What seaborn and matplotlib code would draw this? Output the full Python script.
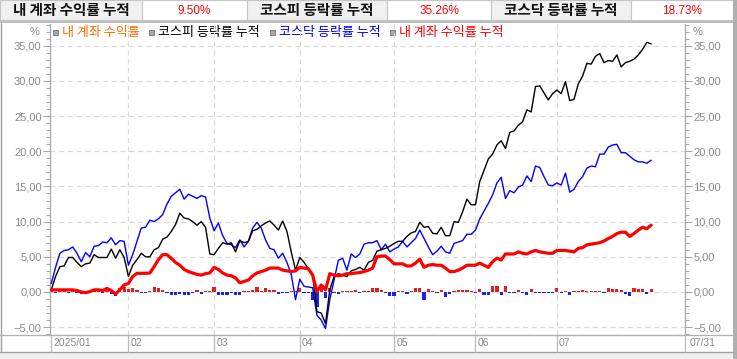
import numpy as np
import pandas as pd
import matplotlib
matplotlib.use("Agg")
import matplotlib.pyplot as plt
import matplotlib.transforms as mtransforms
from matplotlib.ticker import MultipleLocator, FuncFormatter
from matplotlib.patches import Rectangle
import seaborn as sns

# ---------------- data ----------------
month_labels = ["2025/01", "02", "03", "04", "05", "06", "07"]
month_days = [18, 20, 20, 22, 19, 19, 23]
end_label = "07/31"

header_labels = ["내 계좌 수익률 누적", "코스피 등락률 누적", "코스닥 등락률 누적"]
header_values = ["9.50%", "35.26%", "18.73%"]
legend_labels = ["내 계좌 수익률", "코스피 등락률 누적", "코스닥 등락률 누적", "내 계좌 수익률 누적"]

kospi = [0.3, 2.2, 3.6, 3.7, 4.9, 4.9, 4.2, 3.6, 4.0, 4.1,
         5.3, 4.9, 4.9, 4.9, 6.1, 4.8, 6.0, 4.9, 2.2, 3.8,
         4.6, 5.5, 5.0, 5.0, 6.0, 6.3, 7.5, 7.8, 8.6, 9.6,
         11.2, 10.5, 10.4, 10.0, 9.5, 10.0, 9.2, 5.4, 5.3, 6.2,
         7.0, 6.8, 7.0, 5.7, 7.3, 7.0, 7.2, 8.7, 8.9, 9.4,
         9.8, 10.1, 9.5, 8.8, 10.1, 8.6, 5.7, 3.1, 4.9, 4.2,
         3.3, 2.4, -2.8, -3.0, -4.5, 0.3, 2.2, 2.6, 2.4, 2.2,
         3.0, 3.2, 3.5, 3.1, 4.2, 4.5, 5.8, 6.0, 6.2, 6.5,
         6.9, 7.2, 7.2, 7.9, 8.4, 8.6, 9.9, 9.2, 9.3, 8.35,
         8.25, 9.2, 8.0, 8.0, 10.0, 9.9, 11.4, 13.2, 12.4, 12.4,
         15.7, 17.3, 18.9, 19.6, 20.9, 21.5, 20.4, 22.7, 22.9, 23.7,
         24.2, 25.9, 25.6, 29.2, 29.3, 28.3, 27.3, 28.2, 28.7, 28.2,
         29.9, 27.2, 27.4, 29.6, 30.7, 32.5, 32.4, 33.5, 33.9, 32.6,
         32.9, 32.8, 33.7, 32.0, 32.6, 32.8, 33.1, 33.7, 34.5, 35.5,
         35.26]

kosdaq = [1.2, 3.5, 5.5, 5.9, 6.0, 6.4, 5.5, 4.3, 5.6, 5.0,
          6.5, 6.6, 7.1, 7.0, 7.7, 6.7, 7.3, 7.2, 3.8, 5.3,
          7.2, 9.1, 9.2, 10.2, 10.0, 10.4, 11.0, 12.5, 13.6, 14.1,
          14.6, 13.2, 13.9, 13.6, 13.3, 13.7, 13.5, 10.5, 8.7, 9.8,
          8.0, 6.9, 6.7, 6.3, 7.4, 6.4, 7.2, 9.1, 9.9, 9.1,
          7.4, 6.2, 6.0, 4.8, 5.5, 4.2, 2.5, -1.1, 1.8, 0.8,
          0.7, 0.6, -3.3, -4.0, -5.2, -1.1, 1.7, 4.5, 4.8, 3.1,
          5.4, 4.9, 5.4, 6.8, 7.0, 7.0, 7.3, 6.0, 6.8, 5.7,
          6.1, 6.4, 7.2, 6.4, 7.0, 7.6, 8.8, 7.6, 6.4, 5.3,
          5.8, 6.5, 5.7, 5.5, 6.9, 7.1, 7.3, 8.2, 8.2, 8.8,
          10.4, 11.5, 12.6, 13.8, 15.5, 16.3, 13.3, 14.4, 14.1, 14.9,
          15.2, 16.5, 15.7, 17.9, 17.7, 16.4, 15.2, 15.1, 15.5, 15.2,
          16.9, 14.2, 14.6, 15.7, 16.4, 17.6, 17.9, 17.8, 19.6, 19.6,
          20.6, 20.9, 21.0, 19.8, 19.8, 19.3, 18.8, 18.5, 18.5, 18.3,
          18.73]

account = [0.3, 0.3, 0.3, 0.3, 0.3, 0.3, 0.2, 0.0, -0.1, 0.05,
           0.3, 0.3, 0.2, 0.5, 0.2, -0.3, 0.3, 1.0, 1.2, 2.2,
           2.65, 2.65, 2.65, 2.7, 3.6, 4.6, 5.3, 5.3, 4.8, 4.2,
           3.8, 3.2, 2.9, 2.7, 2.5, 2.4, 2.6, 2.7, 3.5, 3.2,
           2.7, 2.4, 2.3, 2.0, 1.3, 1.5, 1.7, 2.3, 2.7, 2.9,
           3.1, 3.4, 3.4, 3.4, 3.1, 3.0, 2.9, 3.0, 3.5, 3.4,
           3.3, 2.4, 0.05, 1.0, 0.3, 2.6, 2.4, 2.3, 2.4, 2.6,
           2.6, 2.7, 2.75, 2.9, 3.1, 3.4, 5.0, 5.1, 5.1, 4.6,
           4.0, 4.0, 4.0, 3.7, 3.7, 4.1, 4.65, 3.5, 3.8, 3.9,
           3.8, 3.8, 3.4, 2.9, 2.9, 3.1, 3.4, 3.8, 3.8, 3.8,
           4.1, 3.8, 3.5, 4.3, 4.8, 4.55, 5.4, 5.4, 5.4, 5.7,
           5.5, 5.4, 5.7, 5.9, 5.7, 5.6, 5.5, 5.5, 5.9, 5.9,
           5.9, 5.8, 5.7, 6.2, 6.3, 6.7, 6.8, 6.9, 7.0, 7.25,
           7.6, 7.9, 8.3, 8.5, 8.5, 7.9, 8.3, 8.8, 9.2, 9.0,
           9.5]

daily = [0.3, -0.2, 0.1, 0.1, -0.1, 0.1, -0.1, -0.3, -0.3, 0.1,
         0.2, 0.1, -0.2, 0.3, -0.3, -0.6, 0.6, 0.7, 0.4, 0.6,
         0.3, -0.1, -0.1, 0.2, 0.7, 0.6, 0.3, -0.2, -0.5, -0.5,
         -0.3, -0.5, -0.4, -0.1, 0.3, -0.3, 0.2, 0.2, 0.75, -0.4,
         -0.4, -0.4, -0.1, -0.5, -0.5, 0.2, 0.2, 0.3, 0.75, 0.2,
         0.5, 0.3, 0.3, -0.3, -0.2, -0.1, 0.2, 0.1, 0.5, -0.2,
         -0.2, -1.2, -2.1, 0.6, -0.9, 0.5, -0.2, -0.3, 0.2, 0.2,
         0.1, 0.3, -0.2, 0.2, 0.2, 0.6, 0.6, 0.3, -0.2, -0.6,
         -0.6, 0.1, 0.1, -0.3, 0.1, 0.6, 0.5, -1.2, 0.4, 0.1,
         -0.2, 0.3, -0.7, -0.3, 0.1, 0.3, 0.3, 0.3, 0.2, -0.2,
         0.4, -0.4, -0.4, 0.8, 0.8, -0.4, 0.8, -0.1, -0.1, 0.3,
         -0.1, -0.5, 0.4, -0.1, -0.2, -0.1, -0.2, -0.2, 0.5, -0.2,
         0.2, -0.5, 0.2, 0.2, 0.3, 0.2, 0.2, 0.1, 0.2, -0.1,
         0.5, 0.4, 0.4, 0.3, -0.3, -0.6, 0.6, 0.4, 0.4, -0.3,
         0.4]

# ---------------- style ----------------
sns.set_style("white")
plt.rcParams['font.family'] = ['Noto Sans CJK KR', 'DejaVu Sans']
NUM_FONT = ['Liberation Sans', 'DejaVu Sans']
GREY_TXT = '#8a8a8a'
AX_GREY = '#a8a8a8'
GRID = '#d9d9d9'

W, H = 737, 359
fig = plt.figure(figsize=(W / 100, H / 100), dpi=100)
fig.patch.set_facecolor('white')

# background / frame overlay in pixel coordinates
bg = fig.add_axes([0, 0, 1, 1], zorder=0)
bg.set_xlim(0, W)
bg.set_ylim(H, 0)
bg.axis('off')

# header cells
edges = [0, 142, 247, 387, 491, 631, 733]
for k in range(6):
    x0, x1 = edges[k], edges[k + 1]
    fc = '#f0f0f0' if k % 2 == 0 else 'white'
    bg.add_patch(Rectangle((x0, 0), x1 - x0, 20, facecolor=fc, edgecolor='#c4c4c4', lw=0.8))
for k in range(3):
    cx = (edges[2 * k] + edges[2 * k + 1]) / 2
    bg.text(cx, 10.5, header_labels[k], ha='center', va='center', fontsize=10.5,
            fontweight='bold', color='#111111')
    cx = (edges[2 * k + 1] + edges[2 * k + 2]) / 2
    bg.text(cx, 10.5, header_values[k], ha='center', va='center', fontsize=8.5,
            color='#ff0000', family=NUM_FONT)
bg.add_patch(Rectangle((0, 20.5), W, 2.5, facecolor='#bdbdbd', edgecolor='none'))
# panel borders
bg.plot([1, 1], [23, 352], color='#a0a0a0', lw=1.0)
bg.add_patch(Rectangle((733, 0), 4, H, facecolor='#b0b0b0', edgecolor='none'))
bg.plot([0, 733], [352, 352], color='#a0a0a0', lw=1.0)
bg.add_patch(Rectangle((0, 352.5), 733, 7, facecolor='#f0f0f0', edgecolor='none'))

# % labels
bg.text(40, 32, '%', ha='right', va='center', fontsize=8, color=GREY_TXT, family=NUM_FONT)
bg.text(693, 32, '%', ha='left', va='center', fontsize=8, color=GREY_TXT, family=NUM_FONT)

# legend inside plot top
leg_colors = ['#ff6a00', '#000000', '#0000ff', '#ff0000']
leg_x = [53, 149, 270, 390]
for lx, lab, c in zip(leg_x, legend_labels, leg_colors):
    bg.add_patch(Rectangle((lx, 30), 5, 5, facecolor='#a8a8a8', edgecolor='#707070', lw=0.6, zorder=5))
    bg.text(lx + 9, 32.5, lab, ha='left', va='center', fontsize=9.4, color=c, zorder=5)

# ---------------- main chart ----------------
ax = fig.add_axes([50 / W, 24 / H, 635 / W, 311 / H], zorder=1)
ax.set_facecolor('none')

n = len(kospi)
day = np.arange(n)
starts = np.concatenate([[0], np.cumsum(month_days)[:-1]])

# gridlines
for s in starts[1:]:
    ax.axvline(s, color=GRID, lw=0.9, ls=(0, (4, 3)), zorder=0)
for yv in range(-5, 40, 5):
    ax.axhline(yv, color=GRID, lw=0.9, ls=(0, (4, 3)), zorder=0)

# daily bars
bar_df = pd.DataFrame({'day': day, 'daily': daily,
                       'sign': ['up' if v >= 0 else 'down' for v in daily]})
sns.barplot(data=bar_df, x='day', y='daily', hue='sign', native_scale=True,
            palette={'up': '#ff0000', 'down': '#0000ff'}, width=0.75, dodge=False,
            errorbar=None, legend=False, ax=ax, zorder=2, linewidth=0)

sns.lineplot(x=day, y=kosdaq, color='#0000ff', lw=1.0, ax=ax, zorder=3)
sns.lineplot(x=day, y=kospi, color='#000000', lw=1.0, ax=ax, zorder=3)
sns.lineplot(x=day, y=account, color='#ff0000', lw=2.3, ax=ax, zorder=4)

ax.set_xlim(-0.3, 147.9)
ax.set_ylim(-6.12, 38.1)
ax.set_xticks([])
ax.set_xlabel('')
ax.set_ylabel('')
ax.yaxis.set_major_locator(MultipleLocator(5))
ax.yaxis.set_minor_locator(MultipleLocator(1))
fmt = FuncFormatter(lambda v, p: f"{v:.2f}".replace('.', ',').replace('-', '\u2212'))
ax.yaxis.set_major_formatter(fmt)
ax.tick_params(axis='y', which='both', left=True, right=True, labelleft=True, labelright=True,
               direction='out', color=AX_GREY, labelcolor=GREY_TXT, labelsize=8, pad=1)
ax.tick_params(axis='y', which='major', length=5, width=0.8)
ax.tick_params(axis='y', which='minor', length=3, width=0.8)
for lab in ax.get_yticklabels():
    lab.set_family(NUM_FONT)
for side in ['left', 'right', 'bottom']:
    ax.spines[side].set_color(AX_GREY)
    ax.spines[side].set_linewidth(0.9)
ax.spines['top'].set_visible(False)
ax.spines['bottom'].set_color('#b0b0b0')

# month labels below the chart
blend = mtransforms.blended_transform_factory(ax.transData, ax.transAxes)
band = 17 / 311
for s, lab in zip(starts, month_labels):
    ax.plot([s, s], [0, -band], transform=blend, color='#b8b8b8', lw=0.9, clip_on=False)
    ax.text(s + 0.5, -band / 2, lab, transform=blend, ha='left', va='center', fontsize=7.5,
            color=GREY_TXT, family=NUM_FONT)
ax.plot([1, 1], [0, -band], transform=ax.transAxes, color='#b8b8b8', lw=0.9, clip_on=False)
ax.text(1 + 5 / 635, -band / 2, end_label, transform=ax.transAxes, ha='left', va='center',
        fontsize=7.5, color=GREY_TXT, family=NUM_FONT)
bg.plot([0, 733], [335, 335], color='#b0b0b0', lw=0.9)

fig.savefig('out.png', dpi=100, facecolor='white')
